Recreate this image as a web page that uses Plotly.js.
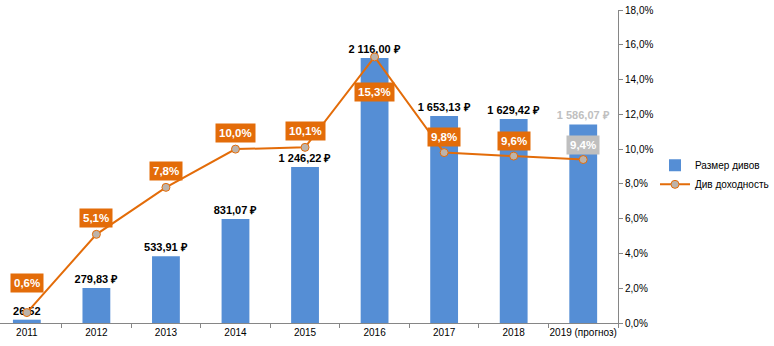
<!DOCTYPE html>
<html>
<head>
<meta charset="utf-8">
<script src="https://cdn.plot.ly/plotly-3.0.1.min.js"></script>
<style>html,body{margin:0;padding:0;background:#fff}#chart{width:774px;height:346px}</style>
</head>
<body>
<div id="chart"></div>
<script>
const categories = ['2011','2012','2013','2014','2015','2016','2017','2018','2019 (прогноз)'];
const dividends = [26.52, 279.83, 533.91, 831.07, 1246.22, 2116.00, 1653.13, 1629.42, 1586.07];
const dividendLabels = ['26,52','279,83 ₽','533,91 ₽','831,07 ₽','1 246,22 ₽','2 116,00 ₽','1 653,13 ₽','1 629,42 ₽','1 586,07 ₽'];
const yieldPct = [0.6, 5.1, 7.8, 10.0, 10.1, 15.3, 9.8, 9.6, 9.4];
const yieldLabels = ['0,6%','5,1%','7,8%','10,0%','10,1%','15,3%','9,8%','9,6%','9,4%'];
const y2Ticks = [0,2,4,6,8,10,12,14,16,18];
const y2TickText = ['0,0%','2,0%','4,0%','6,0%','8,0%','10,0%','12,0%','14,0%','16,0%','18,0%'];

// styling / placement (not data)
const labelShift = [30, 16, 16, 16, 16, -35, 16, 15, 15];
const forecastIdx = 8;
const orange = '#e36c09';
const gray = '#bfbfbf';

const barTextColors = categories.map((c,i)=> i===forecastIdx ? gray : '#000');

const bars = {
  type:'bar', name:'Размер дивов', x:categories, y:dividends,
  marker:{color:'#558ed5'}, width:0.4,
  text:dividendLabels, textposition:'outside', cliponaxis:false, constraintext:'none',
  textfont:{family:'Liberation Sans, Arial', size:11, color:barTextColors, weight:'bold'},
  hoverinfo:'skip', yaxis:'y'
};
const line = {
  type:'scatter', mode:'lines+markers', name:'Див доходность', x:categories, y:yieldPct,
  line:{color:orange, width:2},
  marker:{size:8, color:'#bdb3aa', line:{color:orange, width:1}},
  yaxis:'y2', cliponaxis:false, hoverinfo:'skip'
};

const annotations = categories.map((c,i)=>({
  x:i, y:yieldPct[i], xref:'x', yref:'y2',
  text:yieldLabels[i], showarrow:false, yshift:labelShift[i],
  font:{family:'Liberation Sans, Arial', size:11.5, color:'#fff', weight:'bold'},
  bgcolor: i===forecastIdx ? gray : orange, borderpad:3
}));

const layout = {
  width:774, height:346,
  margin:{l:0, r:152, t:10, b:23},
  paper_bgcolor:'#fff', plot_bgcolor:'#fff',
  showlegend:true,
  legend:{x:1.06, xanchor:'left', y:0.55, yanchor:'top', bgcolor:'rgba(0,0,0,0)',
    font:{family:'Liberation Sans, Arial', size:10, color:'#000'}, itemwidth:30, tracegroupgap:4},
  bargap:0.6,
  xaxis:{type:'category', range:[-0.386, 8.5], tickson:'boundaries', ticks:'outside', ticklen:4,
    tickangle:0, automargin:false,
    tickcolor:'#868686', showline:true, linecolor:'#868686', linewidth:1, showgrid:false,
    tickfont:{family:'Liberation Sans, Arial', size:10, color:'#000'}, zeroline:false, fixedrange:true},
  yaxis:{range:[0,2500], visible:false, showgrid:false, zeroline:false, fixedrange:true},
  yaxis2:{overlaying:'y', side:'right', range:[0,18], tickvals:y2Ticks, ticktext:y2TickText,
    ticks:'outside', ticklen:4, tickcolor:'#868686', showline:true, linecolor:'#868686', linewidth:1,
    showgrid:false, zeroline:false, anchor:'x',
    tickfont:{family:'Liberation Sans, Arial', size:10, color:'#000'}, fixedrange:true},
  annotations:annotations
};

Plotly.newPlot('chart', [bars, line], layout, {staticPlot:true, displayModeBar:false});
</script>
</body>
</html>
